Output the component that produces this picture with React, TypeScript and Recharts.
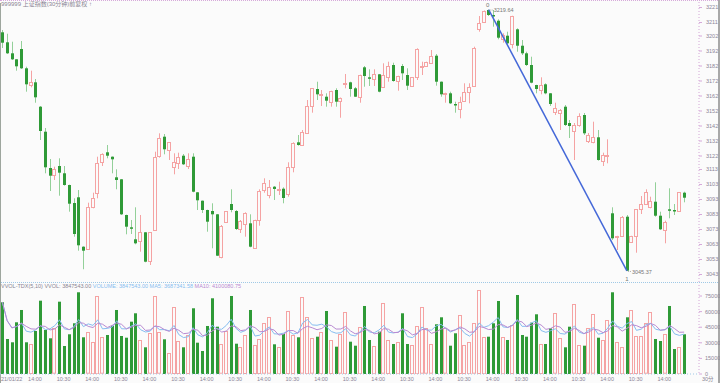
import {
  Bar,
  ComposedChart,
  Line,
  ReferenceDot,
  ReferenceLine,
  XAxis,
  YAxis,
} from 'recharts'

// 30-minute bars
const opens = [
  3204.47, 3197.8, 3190.47, 3186.47, 3193.33, 3180.47, 3168.87, 3171.13, 3154.87, 3138.2,
  3114, 3109.13, 3115.33, 3110.47, 3102.67, 3090.67, 3094.47, 3061.53, 3060, 3087.53,
  3097.13, 3117.8, 3124.47, 3121.53, 3107.8, 3106.47, 3082.67, 3074.47, 3066.47, 3064.87,
  3071.13, 3051.53, 3072.67, 3121.53, 3134.87, 3126, 3114.47, 3117.8, 3122.2, 3115.53,
  3121.53, 3097.8, 3092.2, 3086, 3085.33, 3083.13, 3054.87, 3077.8, 3090, 3085.33,
  3073.33, 3076.67, 3077.13, 3060.47, 3079.33, 3098.87, 3096, 3101.53, 3099.33, 3100.2,
  3097.13, 3114.47, 3131.13, 3129.33, 3137.13, 3154.87, 3166.67, 3162.2, 3161.53, 3158.2,
  3166, 3158.67, 3170, 3171.13, 3167.13, 3161.53, 3181.13, 3174.47, 3173.33, 3176.47,
  3168.2, 3174.87, 3182.67, 3172.2, 3182, 3176, 3168.67, 3174.47, 3181.67, 3181.53,
  3184.47, 3188.87, 3171.53, 3163, 3163.8, 3156.67, 3153.13, 3158.2, 3164.47, 3168.87,
  3207.13, 3211.53, 3219.33, 3216, 3212.2, 3199.8, 3202.2, 3196.67, 3206.47, 3195.53,
  3190.47, 3182.67, 3169.33, 3166, 3169.8, 3163.8, 3150.87, 3150.67, 3154.87, 3144,
  3138.67, 3142.67, 3149.33, 3132, 3131.53, 3134.47, 3118.87, 3122.47, 3083.8, 3067.8,
  3068.67, 3081.53, 3064.87, 3068.67, 3086.47, 3090, 3088.2, 3091.53, 3082.2, 3073.13,
  3086.47, 3086, 3085.33, 3097.53,
]
const closes = [
  3197.53, 3190.47, 3186.47, 3181.8, 3180.47, 3169.8, 3171.13, 3161.13, 3138.67, 3114.47,
  3108.87, 3113.13, 3110.87, 3102.67, 3090.2, 3070, 3062.47, 3058.87, 3087.8, 3093.8,
  3117.13, 3123.33, 3122.2, 3119.8, 3106, 3083.13, 3074.87, 3074, 3063.8, 3071.13,
  3051.53, 3071.13, 3121.13, 3133.8, 3126.47, 3131.13, 3117.8, 3121.53, 3116.47, 3120,
  3098.2, 3092.47, 3086, 3078.2, 3083.13, 3055.53, 3075.53, 3085.13, 3086, 3073.33,
  3078.87, 3083.8, 3061.53, 3079.33, 3098.87, 3103.8, 3101.53, 3100, 3100, 3094,
  3114.87, 3130.47, 3129.33, 3138.2, 3155.33, 3167.13, 3163.13, 3163.13, 3158.87, 3165.33,
  3158.2, 3160.87, 3170.87, 3166.67, 3161.53, 3176, 3175.33, 3174, 3176.67, 3164.87,
  3176, 3182.2, 3172, 3175.33, 3177.13, 3168.87, 3174.47, 3193.13, 3182.33, 3184.47,
  3188.87, 3171.53, 3163.13, 3163.67, 3157.13, 3156.2, 3157.8, 3164.47, 3167.8, 3194.2,
  3210.87, 3218.67, 3216, 3215.33, 3200.87, 3202.67, 3197.13, 3215.33, 3195.53, 3190.47,
  3182.67, 3170.87, 3166.67, 3169.33, 3163.8, 3156.67, 3153.8, 3152.67, 3142.67, 3142,
  3142.67, 3148.67, 3137.13, 3136, 3134.87, 3119.33, 3122.67, 3122.87, 3067.13, 3068.67,
  3081.53, 3045.53, 3068.67, 3086.47, 3090, 3097.8, 3092, 3082.2, 3073.13, 3078.2,
  3085.8, 3085.33, 3097.8, 3094.2,
]
const highs = [
  3206, 3203.53, 3198.2, 3186.6, 3198.67, 3181.53, 3178.87, 3173.33, 3155.33, 3140.67,
  3120, 3114.87, 3120.47, 3115.33, 3102.9, 3093.8, 3099.33, 3061.8, 3090.87, 3097.53,
  3121.53, 3123.8, 3129.33, 3121.7, 3113.13, 3106.67, 3082.9, 3079.33, 3087.8, 3082.67,
  3071.33, 3071.33, 3124.87, 3137.13, 3136.67, 3131.33, 3123.8, 3124.2, 3123.33, 3123.8,
  3123.8, 3098, 3092.33, 3086.2, 3090.47, 3083.33, 3076, 3085.33, 3099.8, 3086,
  3079.33, 3084.47, 3083.13, 3079.5, 3099.8, 3107.13, 3106, 3102, 3104.87, 3101.13,
  3117.8, 3131.13, 3136, 3139.33, 3159.33, 3167.3, 3171.53, 3166, 3163.8, 3165.5,
  3167.13, 3161, 3176.67, 3171.53, 3168, 3176.2, 3182, 3179.8, 3179.8, 3176.67,
  3183.8, 3184.87, 3184.2, 3175.5, 3183.33, 3180.47, 3174.67, 3193.8, 3184.87, 3184.87,
  3192.67, 3190, 3171.67, 3164.2, 3164.87, 3158.2, 3161.53, 3170.47, 3170.47, 3194.87,
  3215.33, 3219, 3219.64, 3219.33, 3213.13, 3203.8, 3204.87, 3215.5, 3207.13, 3199.33,
  3191.53, 3188.2, 3169.5, 3174.47, 3170.47, 3164, 3157.53, 3153.33, 3156, 3146,
  3144, 3150.47, 3150.67, 3137.33, 3144.87, 3139.33, 3124.2, 3133.13, 3087.8, 3068.8,
  3082, 3082.67, 3068.8, 3086.6, 3095.33, 3099.8, 3094.87, 3104.47, 3084.87, 3078.87,
  3100.47, 3090, 3098, 3098.2,
]
const lows = [
  3194, 3190, 3186, 3178.87, 3180, 3164.87, 3167.8, 3157.53, 3132.67, 3110.47,
  3098.67, 3106, 3095.53, 3102.2, 3084.87, 3068.2, 3058.87, 3046.5, 3059.33, 3087.13,
  3093.8, 3115.33, 3120.47, 3110.47, 3099.8, 3082.67, 3069.8, 3070, 3063.13, 3058.2,
  3051.13, 3049.33, 3072.33, 3120.87, 3123.13, 3119.33, 3109.8, 3113.33, 3116, 3113.33,
  3097.8, 3086, 3084, 3071.53, 3060.47, 3055.33, 3053.8, 3077.67, 3084.47, 3072.67,
  3070.67, 3068.2, 3061.13, 3060, 3075.53, 3097.53, 3093.8, 3092.67, 3096, 3090.47,
  3094.87, 3111.13, 3128.87, 3128.67, 3137, 3150.87, 3159.33, 3155.33, 3154.87, 3154.87,
  3154.87, 3147.53, 3167.13, 3161.53, 3161.33, 3157.53, 3168.2, 3168.67, 3168.67, 3164.47,
  3167.8, 3171.53, 3171.53, 3165.53, 3172.67, 3166, 3168, 3172.67, 3176, 3181.33,
  3183.8, 3168.87, 3161.53, 3157.53, 3156.67, 3150.87, 3147.13, 3158, 3157.13, 3168.67,
  3204.87, 3210.87, 3215.33, 3208.2, 3199.8, 3197.53, 3196.47, 3193.8, 3191.53, 3189.33,
  3182, 3170.47, 3163.8, 3163.13, 3163.13, 3155.33, 3149.33, 3139.33, 3142, 3134,
  3119.33, 3141.53, 3136, 3130.67, 3130.47, 3118.87, 3115.33, 3117.13, 3066, 3059.33,
  3068.2, 3045.37, 3064, 3057.53, 3083.33, 3089.33, 3087.13, 3081.53, 3072.67, 3063.8,
  3080.47, 3082.67, 3085, 3091.13,
]
const volumes = [
  68975, 33670, 30495, 49735, 61568, 30495, 28860, 41366, 70515, 42328,
  34343, 43963, 69553, 26936, 38191, 48773, 78595, 35305, 40115, 31073,
  75325, 35305, 37518, 46465, 61568, 36556, 34921, 50313, 58393, 32708,
  25685, 39153, 75325, 40115, 33381, 19913, 64454, 31746, 25685, 37518,
  63203, 30111, 22126, 46176, 72823, 45503, 28571, 41366, 75036, 29149,
  26263, 37518, 61568, 27898, 33670, 48773, 54545, 28571, 26263, 38480,
  60606, 37518, 35305, 73785, 55123, 34343, 35883, 40693, 60606, 32708,
  26263, 38191, 59933, 31073, 27225, 45503, 65416, 32708, 27225, 40693,
  68013, 32708, 28860, 31073, 58393, 28860, 27898, 46465, 64165, 43963,
  28571, 47811, 54545, 43963, 27225, 39153, 56758, 27898, 31073, 48773,
  80808, 35883, 35883, 48773, 70226, 35883, 32708, 47138, 75998, 37518,
  35883, 49351, 57431, 28860, 28860, 43963, 58393, 34921, 25685, 45503,
  67051, 27898, 27225, 43963, 57431, 34921, 32708, 51948, 78595, 31073,
  26263, 54545, 61568, 36556, 36556, 48773, 59933, 33670, 31746, 38191,
  65416, 24050, 26263, 38191,
]

const priceTicks = [
  3043, 3053, 3063, 3073, 3083, 3093, 3103, 3113, 3122, 3132, 3142, 3152, 3162, 3172,
  3182, 3192, 3202, 3211, 3221,
]
const volumeTicks = [0, 15000, 30000, 45000, 60000, 75000]
const timeTicks = [
  0, 6, 12, 18, 24, 30, 36, 42, 48, 54, 60, 66, 72, 78, 84, 90, 96, 102, 108, 114, 120,
  126, 132, 138,
]
const timeLabels = [
  '21/01/22', '14:00', '10:30', '14:00', '10:30', '14:00', '10:30', '14:00', '10:30',
  '14:00', '10:30', '14:00', '10:30', '14:00', '10:30', '14:00', '10:30', '14:00',
  '10:30', '14:00', '10:30', '14:00', '10:30', '14:00',
]
const highIndex = 102
const lowIndex = 131

const BG = '#fbfbfb'
const UP = '#f5a3a3'
const DOWN = '#2f9a37'
const DOWN_WICK = '#93d099'
const AXIS_TEXT = '#8c8598'

const movingAverage = (values: number[], n: number) =>
  values.map((_, i) => {
    const win = values.slice(Math.max(0, i - n + 1), i + 1)
    return win.reduce((a, b) => a + b, 0) / win.length
  })

const ma5 = movingAverage(volumes, 5)
const ma10 = movingAverage(volumes, 10)

const data = opens.map((open, i) => ({
  i,
  open,
  close: closes[i],
  high: highs[i],
  low: lows[i],
  vol: volumes[i],
  ma5: ma5[i],
  ma10: ma10[i],
}))

function Candle(props: any) {
  const { x, y, width, height, payload } = props
  const { open, close, high, low } = payload
  const top = Math.min(y, y + height)
  const k = Math.abs(height) / (high - low)
  const at = (v: number) => top + (high - v) * k
  const cx = Math.floor(x + width / 2) + 0.5
  const bTop = at(Math.max(open, close))
  const bBot = at(Math.min(open, close))
  if (close >= open) {
    return (
      <g>
        <line x1={cx} x2={cx} y1={at(high)} y2={at(low)} stroke={UP} />
        <rect
          x={cx - 2}
          y={Math.round(bTop) + 0.5}
          width={3}
          height={Math.max(1, Math.round(bBot - bTop))}
          fill={BG}
          stroke={UP}
        />
      </g>
    )
  }
  return (
    <g>
      <line x1={cx} x2={cx} y1={at(high)} y2={at(low)} stroke={DOWN_WICK} />
      <rect x={cx - 1.5} y={bTop} width={3} height={Math.max(1.5, bBot - bTop)} fill={DOWN} />
    </g>
  )
}

function VolumeBar(props: any) {
  const { x, y, width, height, payload } = props
  const cx = Math.floor(x + width / 2) + 0.5
  const top = Math.min(y, y + height)
  const h = Math.abs(height)
  if (payload.close >= payload.open) {
    return (
      <rect x={cx - 2} y={Math.round(top) + 0.5} width={3} height={Math.max(1, h - 1)} fill="none" stroke={UP} />
    )
  }
  return <rect x={cx - 1.5} y={top} width={3} height={h} fill={DOWN} />
}

function TimeTick(props: any) {
  const { x, y, payload } = props
  const idx = timeTicks.indexOf(payload.value)
  const first = idx === 0
  return (
    <text
      x={first ? 1 : x + 4}
      y={y + 7}
      fontSize={5.5}
      fill={AXIS_TEXT}
      textAnchor={first ? 'start' : 'middle'}
    >
      {timeLabels[idx]}
    </text>
  )
}

function HighMark(p: any) {
  return (
    <g fontSize={5.5} fill="#777">
      <text x={p.cx - 1} y={p.cy - 3} textAnchor="middle" fontSize={6}>
        0
      </text>
      <line x1={p.cx + 1} x2={p.cx + 5} y1={p.cy + 0.5} y2={p.cy + 0.5} stroke="#aaa" strokeDasharray="1 1" />
      <text x={p.cx + 5} y={p.cy + 2.5}>
        {highs[highIndex].toFixed(2)}
      </text>
    </g>
  )
}

function LowMark(p: any) {
  return (
    <g fontSize={5.5} fill="#777">
      <text x={p.cx} y={p.cy + 10} textAnchor="middle" fontSize={6}>
        1
      </text>
      <line x1={p.cx + 1} x2={p.cx + 5} y1={p.cy + 0.5} y2={p.cy + 0.5} stroke="#aaa" strokeDasharray="1 1" />
      <text x={p.cx + 5} y={p.cy + 3}>
        {lows[lowIndex].toFixed(2)}
      </text>
    </g>
  )
}

export default function App() {
  return (
    <div
      style={{
        position: 'fixed',
        left: 0,
        top: 0,
        width: 720,
        height: 383,
        background: BG,
        overflow: 'hidden',
        fontFamily: '"Liberation Sans", "Noto Sans CJK SC", sans-serif',
      }}
    >
      <div style={{ position: 'absolute', left: 0, top: 0, width: 720, borderTop: '1px dotted #d6a9da' }} />
      <div style={{ position: 'absolute', left: 0, top: 282, width: 720, borderTop: '1px dotted #9fc9e6' }} />
      <div style={{ position: 'absolute', left: 0, top: 3, width: 1, height: 380, background: '#9ea69e' }} />
      <div style={{ position: 'absolute', left: 718, top: 0, width: 2, height: 383, background: '#a8a8a8' }} />

      <div style={{ position: 'absolute', left: 0, top: 0 }}>
        <ComposedChart width={720} height={284} data={data} margin={{ top: 2, right: 0, bottom: 2, left: 0 }}>
          <XAxis dataKey="i" type="category" hide padding={{ left: 0, right: 12.5 }} />
          <YAxis
            orientation="right"
            width={21}
            domain={[3038, 3224.67]}
            ticks={priceTicks}
            interval={0}
            allowDataOverflow
            tick={{ fontSize: 5.5, fill: AXIS_TEXT }}
            tickSize={3}
            tickMargin={4}
            tickLine={{ stroke: '#d6a9da' }}
            axisLine={{ stroke: '#d3a6d6', strokeDasharray: '1 2' }}
          />
          <ReferenceLine
            segment={[
              { x: highIndex, y: highs[highIndex] },
              { x: lowIndex, y: lows[lowIndex] },
            ]}
            stroke="#4468d8"
            strokeWidth={1.5}
          />
          <Bar
            dataKey={(d: any) => [d.low, d.high]}
            barSize={3}
            shape={Candle}
            isAnimationActive={false}
          />
          <ReferenceDot x={highIndex} y={highs[highIndex]} shape={HighMark} />
          <ReferenceDot x={lowIndex} y={lows[lowIndex]} shape={LowMark} />
        </ComposedChart>
      </div>

      <div style={{ position: 'absolute', left: 0, top: 283 }}>
        <ComposedChart width={720} height={100} data={data} margin={{ top: 2, right: 0, bottom: 0, left: 0 }}>
          <XAxis
            dataKey="i"
            type="category"
            padding={{ left: 0, right: 12.5 }}
            ticks={timeTicks}
            interval={0}
            height={9}
            tickSize={0}
            tickMargin={0}
            tickLine={false}
            tick={<TimeTick />}
            axisLine={{ stroke: '#9fc9e6', strokeDasharray: '1 2' }}
          />
          <YAxis
            orientation="right"
            width={21}
            domain={[0, 85600]}
            ticks={volumeTicks}
            interval={0}
            allowDataOverflow
            tick={{ fontSize: 5.5, fill: AXIS_TEXT }}
            tickSize={3}
            tickMargin={3}
            tickLine={{ stroke: '#d6a9da' }}
            axisLine={{ stroke: '#d3a6d6', strokeDasharray: '1 2' }}
          />
          <Bar dataKey="vol" barSize={3} shape={VolumeBar} isAnimationActive={false} />
          <Line dataKey="ma5" stroke="#86bdf0" strokeWidth={1} dot={false} isAnimationActive={false} />
          <Line dataKey="ma10" stroke="#b98ad2" strokeWidth={1} dot={false} isAnimationActive={false} />
        </ComposedChart>
      </div>

      <div
        style={{
          position: 'absolute',
          left: 1,
          top: 1,
          fontSize: 6,
          lineHeight: '7px',
          color: '#8a8594',
          whiteSpace: 'nowrap',
        }}
      >
        999999 上证指数(30分钟)前复权 ↑
      </div>
      <div
        style={{
          position: 'absolute',
          left: 1,
          top: 283,
          fontSize: 5.5,
          lineHeight: '7px',
          whiteSpace: 'nowrap',
        }}
      >
        <span style={{ color: '#8a8594' }}>VVOL-TDX(5,10) VVOL: 3847543.00 </span>
        <span style={{ color: '#86bdf0' }}> VOLUME: 3847543.00 MA5: 3687341.58 </span>
        <span style={{ color: '#b98ad2' }}> MA10: 4100080.75</span>
      </div>
      <div
        style={{
          position: 'absolute',
          left: 702,
          top: 376,
          fontSize: 5.5,
          lineHeight: '7px',
          color: '#8a8594',
          whiteSpace: 'nowrap',
        }}
      >
        30分
      </div>
    </div>
  )
}
